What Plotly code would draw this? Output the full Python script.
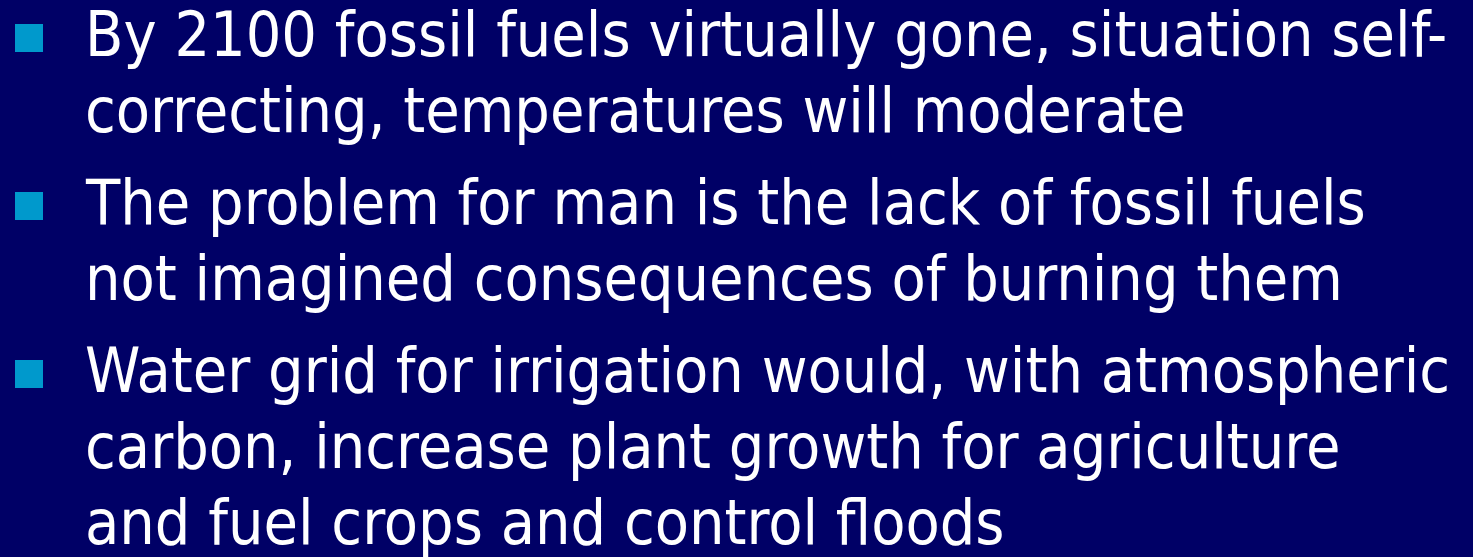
import plotly.graph_objects as go

# slide content: one list of wrapped lines per bullet
bullets = [
    ["By 2100 fossil fuels virtually gone, situation self-",
     "correcting, temperatures will moderate"],
    ["The problem for man is the lack of fossil fuels",
     "not imagined consequences of burning them"],
    ["Water grid for irrigation would, with atmospheric",
     "carbon, increase plant growth for agriculture",
     "and fuel crops and control floods"],
]

W, H = 1473, 557
BG = "#000066"
BULLET = "#0099CC"
FONT = "DejaVu Sans Condensed, Tahoma, Verdana, sans-serif"
SIZE = 62.3

first_base = 57
line_gap = 76
para_gap = 92
text_x = 83
bullet_x = 29

fig = go.Figure()

bx, by = [], []
annotations = []
base = first_base
for lines in bullets:
    bx.append(bullet_x)
    by.append(base - 19)
    for i, line in enumerate(lines):
        if i > 0:
            base += line_gap
        annotations.append(dict(
            x=text_x, y=base - 0.346 * SIZE - 1, xref="x", yref="y",
            text=line, showarrow=False, xanchor="left", yanchor="middle",
            font=dict(family=FONT, size=SIZE, color="white"),
        ))
    base += para_gap

fig.add_trace(go.Scatter(
    x=bx, y=by, mode="markers", hoverinfo="skip",
    marker=dict(symbol="square", size=28, color=BULLET, line=dict(width=0)),
))

fig.update_layout(
    width=W, height=H,
    margin=dict(l=0, r=0, t=0, b=0),
    paper_bgcolor=BG, plot_bgcolor=BG,
    showlegend=False,
    annotations=annotations,
    xaxis=dict(range=[0, W], visible=False, fixedrange=True),
    yaxis=dict(range=[H, 0], visible=False, fixedrange=True),
)

# drop the page's default body margin so the slide fills the window
fig.write_html(
    "out.html",
    config={"displayModeBar": False},
    post_script="document.body.style.margin='0';document.body.style.background='%s';" % BG,
)
